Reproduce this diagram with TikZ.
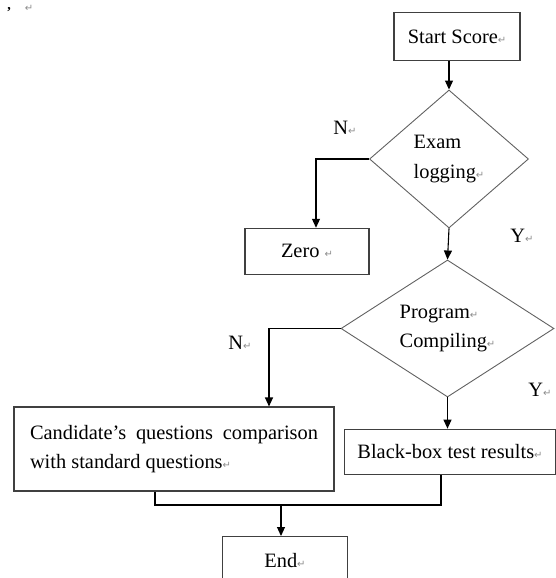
\documentclass[tikz,border=0pt]{standalone}
\usepackage{fontspec}
\setmainfont{Liberation Serif}
\newfontfamily\retfont{DejaVu Sans}
\usetikzlibrary{shapes.geometric,arrows.meta}
\definecolor{boxgray}{rgb}{.25,.25,.25}
\definecolor{diagray}{rgb}{.38,.38,.38}
\definecolor{retgray}{rgb}{.55,.55,.55}
\newcommand\retmark{{\retfont\fontsize{10}{10}\selectfont\color{retgray}↵}}

\begin{document}
\begin{tikzpicture}[x=1pt, y=-1pt,
	every node/.style={font=\fontsize{20.4}{29.5}\selectfont},
	stepbox/.style={draw=boxgray, line width=1.1pt, inner sep=0pt},
	test/.style={diamond, aspect=1.5, draw=diagray, line width=0.9pt, inner sep=0pt, align=left},
	arr/.style={draw=black, line width=1.1pt, -{Triangle[length=9pt,width=8pt]}},
	link/.style={draw=black, line width=1.1pt}]
	
	\useasboundingbox (0,0) rectangle (555,578);
	
	\node[font=\fontsize{14}{14}\bfseries, inner sep=0pt, anchor=north] (comma) at (9,7) {,};
	\node[inner sep=1pt] (ret0) at (29,8) {\retmark};
	
	\node[stepbox, minimum width=126pt, minimum height=48pt] (start) at (457,36.7) {Start Score\retmark};
	\node[test, minimum width=159pt, minimum height=138pt] (exam) at (449,159) {Exam\\logging\retmark};
	\node[stepbox, minimum width=124pt, minimum height=46pt] (zero) at (307,251.3) {Zero \retmark};
	\node[test, minimum width=213pt, minimum height=137pt] (comp) at (447.5,328.5) {Program\retmark\\Compiling\retmark};
	\node[stepbox, text width=288pt, align=justify, inner xsep=16pt, minimum height=84pt] (cand) at (174,449) {Candidate’s questions comparison with standard questions\retmark};
	\node[stepbox, minimum width=211pt, minimum height=45pt] (black) at (450,451.7) {Black-box test results\retmark};
	\node[stepbox, minimum width=125pt, minimum height=48pt, anchor=north] (finish) at (285,536) {End\retmark};
	
	\node (n1) at (345,128) {N\retmark};
	\node (y1) at (522,236) {Y\retmark};
	\node (n2) at (240,343) {N\retmark};
	\node (y2) at (540,390) {Y\retmark};
	
	\draw[arr] (exam.north |- start.south) -- (exam.north);
	\draw[arr] (exam.west) -| ([xshift=9pt]zero.north);
	\draw[arr] (exam.south) -- (comp.north);
	\draw[arr] (comp.west) -| ([xshift=95pt]cand.north);
	\draw[arr] (comp.south) -- (comp.south |- black.north);
	
	\coordinate (merge) at (281,505);
	\draw[link] ([xshift=-19pt]cand.south) |- (merge) -| ([xshift=-9pt]black.south);
	\draw[arr] (merge) -- (merge |- finish.north);
	
\end{tikzpicture}
\end{document}
